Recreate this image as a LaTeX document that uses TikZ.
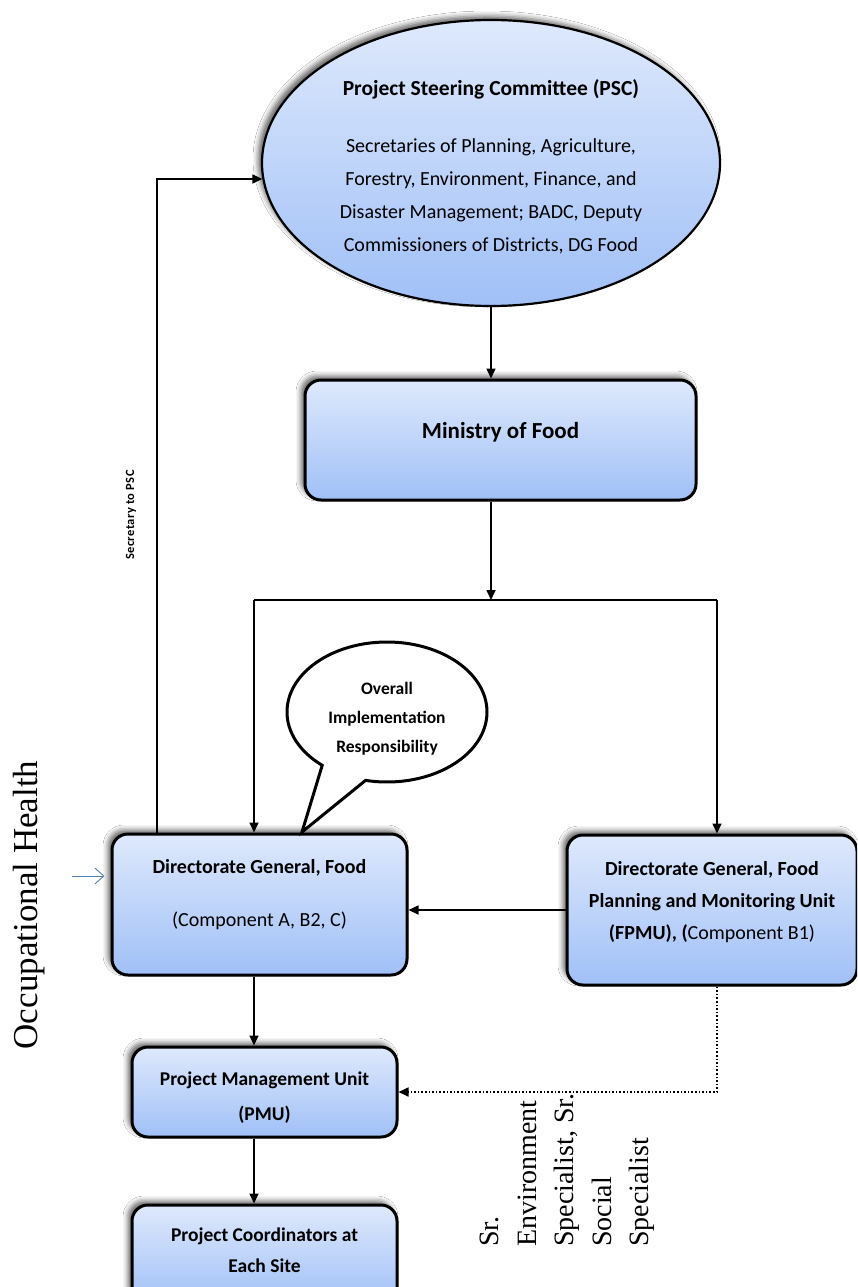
\documentclass[tikz,border=0pt]{standalone}
\usepackage{fontspec}
\setmainfont{Carlito}
\newfontfamily\timesf{Liberation Serif}
\usetikzlibrary{shapes.geometric,shapes.callouts,shadows.blur,arrows.meta}
\definecolor{boxtop}{RGB}{222,233,252}
\definecolor{boxbot}{RGB}{160,192,247}
\definecolor{bluearr}{RGB}{79,129,189}
\tikzset{
  shadowed/.style={blur shadow={shadow xshift=-4pt,shadow yshift=4pt,shadow blur radius=5pt,shadow opacity=60}},
  bluebox/.style={shadowed,draw=black,line width=3pt,top color=boxtop,bottom color=boxbot,
     rounded corners=16pt,align=center,inner sep=0pt},
  conn/.style={line width=1.6pt,-{Triangle[length=10pt,width=9pt]}},
  plain/.style={line width=1.6pt},
}
\begin{document}
\begin{tikzpicture}[x=1pt,y=1pt]
\clip (0,0) rectangle (857,-1287);
\fill[white] (0,0) rectangle (857,-1287);
% PSC
\node[ellipse,shadowed,draw=black,line width=2.2pt,top color=boxtop,bottom color=boxbot,
  minimum width=458,minimum height=286,inner sep=0pt,align=center,
  font={\fontsize{20}{33}\selectfont}] (psc) at (491,-163)
 {\rule{0pt}{24pt}\bfseries\fontsize{21.5}{33}\selectfont Project Steering Committee (PSC)\\[24pt]
  Secretaries of Planning, Agriculture,\\
  Forestry, Environment, Finance, and\\
  Disaster Management; BADC, Deputy\\
  Commissioners of Districts, DG Food};
% Ministry
\node[bluebox,minimum width=391,minimum height=120,font={\fontsize{23}{27}\selectfont\bfseries}] (min) at (500.5,-440)
 {Ministry of Food\\[-7pt]};
% DG
\node[bluebox,minimum width=295,minimum height=141,font={\fontsize{20}{24}\selectfont}] (dg) at (259.5,-904.5)
 {\bfseries Directorate General, Food\\[29pt]
  (Component A, B2, C)\\[-1pt]};
% FPMU
\node[bluebox,minimum width=290,minimum height=150,font={\fontsize{20}{32}\selectfont\bfseries}] (fpmu) at (712,-910)
 {Directorate General, Food\\
  Planning and Monitoring Unit\\
  (FPMU), (\mdseries Component B1)\\[-12pt]};
% PMU
\node[bluebox,minimum width=265,minimum height=90,font={\fontsize{19.5}{35}\selectfont\bfseries}] (pmu) at (264.5,-1092)
 {\rule{0pt}{24pt}Project Management Unit\\(PMU)};
% PC
\node[bluebox,minimum width=265,minimum height=100,font={\fontsize{19.5}{31}\selectfont\bfseries}] (pc) at (264.5,-1255)
 {Project Coordinators at\\Each Site\\[-22pt]};
% Callout
\node[ellipse callout,draw=black,fill=white,line width=3pt,minimum width=200,minimum height=140,
  inner sep=0pt,align=center,callout absolute pointer={(302,-832)},callout pointer arc=28,
  font={\fontsize{17.5}{29}\selectfont\bfseries}] (call) at (387,-712)
 {\rule{0pt}{26pt}Overall\\Implementation\\Responsibility};
% coordinates
\coordinate (jl) at (254,-600);
\coordinate (jr) at (717,-600);
\coordinate (secx) at (157,-600);
\coordinate (bs) at (72,-876);
% connectors
\draw[conn] (psc.south) -- (psc.south |- min.north);
\draw[conn] (psc.south |- min.south) -- (psc.south |- jl);
\draw[plain] (jl) -- (jr);
\draw[conn] (jl) -- (jl |- dg.north);
\draw[conn] (jr) -- (jr |- fpmu.north);
\draw[conn] (fpmu.west) -- (fpmu.west -| dg.east);
\draw[conn] (secx |- dg.north) |- (psc.184.5);
\draw[conn] (jl |- dg.south) -- (jl |- pmu.north);
\draw[conn] (jl |- pmu.south) -- (jl |- pc.north);
\draw[line width=1.6pt,dotted,-{Triangle[length=10pt,width=9pt]}] (jr |- fpmu.south) |- (pmu.east);
\draw[bluearr,line width=0.9pt,-{Straight Barb[length=9pt,width=16pt]}] (bs) -- ([xshift=-6pt]dg.west |- bs);
% labels
\node[rotate=90,inner sep=0pt,font={\fontsize{12.5}{15}\selectfont\bfseries\addfontfeatures{LetterSpace=3}}] (seclab) at (131,-515)
 {Secretary to PSC};
\node[rotate=90,inner sep=0pt,font={\timesf\fontsize{35}{40}\selectfont}] (occ) at (29,-905)
 {Occupational Health};
\node[rotate=90,inner sep=0pt,anchor=south west,align=left,font={\timesf\fontsize{28}{37.5}\selectfont}] (spec) at (655,-1247)
 {Sr.\\Environment\\Specialist, Sr.\\Social\\Specialist};
\end{tikzpicture}
\end{document}
